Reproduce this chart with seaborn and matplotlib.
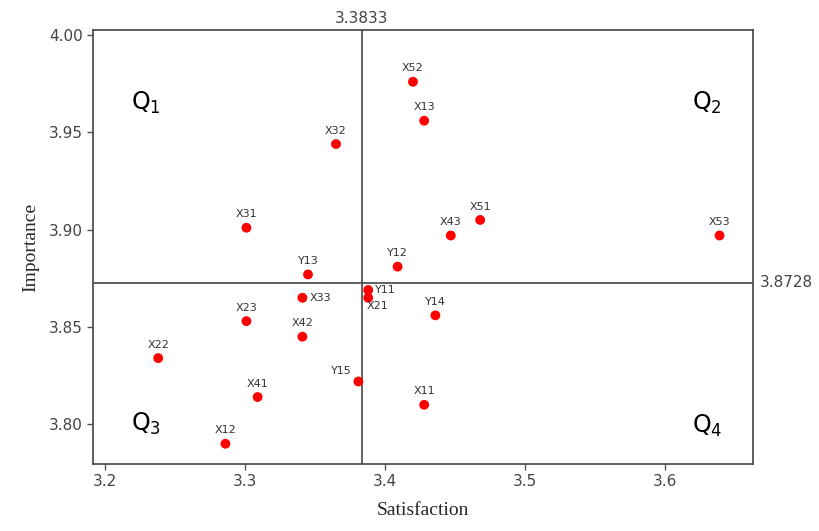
import pandas as pd
import matplotlib.pyplot as plt
import seaborn as sns

# Importance-satisfaction values
labels = ['X52', 'X13', 'X32', 'X31', 'X51', 'X43', 'X53', 'Y12', 'Y13', 'X33',
          'Y11', 'X21', 'X23', 'X42', 'Y14', 'X22', 'Y15', 'X41', 'X11', 'X12']
satisfaction = [3.420, 3.428, 3.365, 3.301, 3.468, 3.447, 3.639, 3.409, 3.345, 3.341,
                3.388, 3.388, 3.301, 3.341, 3.436, 3.238, 3.381, 3.309, 3.428, 3.286]
importance = [3.976, 3.956, 3.944, 3.901, 3.905, 3.897, 3.897, 3.881, 3.877, 3.865,
              3.869, 3.865, 3.853, 3.845, 3.856, 3.834, 3.822, 3.814, 3.810, 3.790]
# label placement: 'top', 'right', 'left'
label_pos = ['top', 'top', 'top', 'top', 'top', 'top', 'top', 'top', 'top', 'right',
             'right', 'right_low', 'top', 'top', 'top', 'top', 'left', 'top', 'top', 'top']

mean_sat = 3.3833
mean_imp = 3.8728

df = pd.DataFrame({'Satisfaction': satisfaction, 'Importance': importance, 'label': labels})

sns.set_style("white")
plt.rcParams['font.family'] = ['DejaVu Sans']

fig = plt.figure(figsize=(8.2, 5.31), dpi=100)
ax = fig.add_axes([0.1134, 0.1262, 0.8049, 0.8173])

sns.scatterplot(data=df, x='Satisfaction', y='Importance', color='#ff0000',
                s=50, edgecolor='none', ax=ax, zorder=3)

ax.axvline(mean_sat, color='#555555', lw=1.3, zorder=1)
ax.axhline(mean_imp, color='#555555', lw=1.3, zorder=1)

for lab, x, y, pos in zip(labels, satisfaction, importance, label_pos):
    if pos == 'top':
        ax.annotate(lab, (x, y), xytext=(0, 6), textcoords='offset points',
                    ha='center', va='bottom', fontsize=8, color='#333333')
    elif pos == 'right':
        ax.annotate(lab, (x, y), xytext=(5, 0), textcoords='offset points',
                    ha='left', va='center', fontsize=8, color='#333333')
    elif pos == 'right_low':
        ax.annotate(lab, (x, y), xytext=(-1, -2), textcoords='offset points',
                    ha='left', va='top', fontsize=8, color='#333333')
    else:
        ax.annotate(lab, (x, y), xytext=(-5, 4), textcoords='offset points',
                    ha='right', va='bottom', fontsize=8, color='#333333')

# quadrant names
ax.text(3.229, 3.965, 'Q$_1$', fontsize=17, ha='center', va='center', color='black')
ax.text(3.630, 3.965, 'Q$_2$', fontsize=17, ha='center', va='center', color='black')
ax.text(3.229, 3.800, 'Q$_3$', fontsize=17, ha='center', va='center', color='black')
ax.text(3.630, 3.799, 'Q$_4$', fontsize=17, ha='center', va='center', color='black')

ax.set_xlim(3.1914, 3.6629)
ax.set_ylim(3.7796, 4.0026)
ax.set_xticks([3.2, 3.3, 3.4, 3.5, 3.6])
ax.set_yticks([3.80, 3.85, 3.90, 3.95, 4.00])
ax.set_yticklabels(['3.80', '3.85', '3.90', '3.95', '4.00'])
ax.tick_params(axis='both', direction='out', length=4, width=1, color='#555555',
               labelsize=11, labelcolor='#444444', bottom=True, left=True)

for sp in ax.spines.values():
    sp.set_color('#444444')
    sp.set_linewidth(1.2)

ax.text(mean_sat, 1.01, '3.3833', transform=ax.get_xaxis_transform(),
        ha='center', va='bottom', fontsize=11, color='#444444')
ax.text(1.01, mean_imp, '3.8728', transform=ax.get_yaxis_transform(),
        ha='left', va='center', fontsize=11, color='#444444')

ax.set_xlabel('Satisfaction', family='Liberation Serif', fontsize=14, labelpad=9)
ax.set_ylabel('Importance', family='Liberation Serif', fontsize=14, labelpad=7)

fig.savefig('out.png', dpi=100)
